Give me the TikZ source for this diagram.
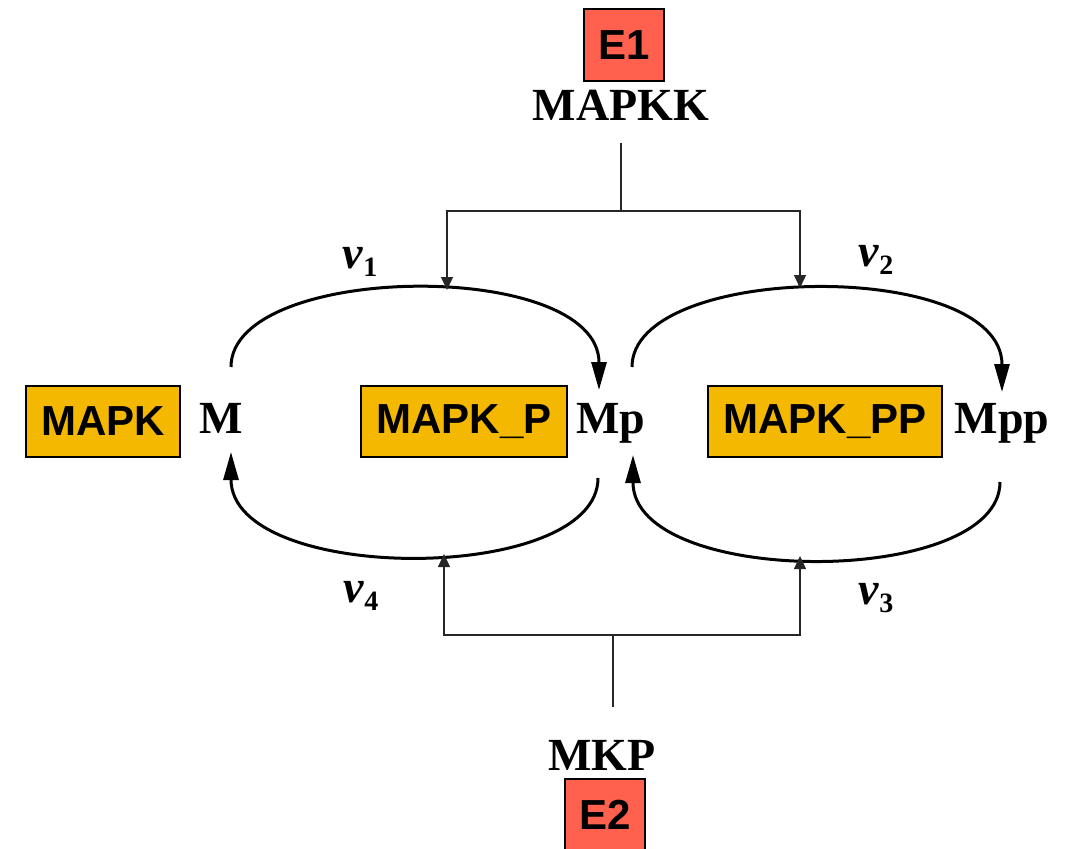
\documentclass[tikz,border=0pt]{standalone}
\usepackage{fontspec}
\setmainfont{Liberation Serif}
\newfontfamily\arialfont{Liberation Sans}
\usetikzlibrary{arrows.meta}
\definecolor{enzred}{HTML}{FF614E}
\definecolor{formgold}{HTML}{F5B800}
\newcommand{\rate}[1]{\textit{v}\raisebox{-8pt}{\fontsize{28}{28}\selectfont #1}}
\tikzset{
    every node/.style={inner sep=0pt, font=\fontsize{46}{46}\selectfont\bfseries}
}
\tikzset{
    species/.style={draw, line width=2pt, fill=formgold, minimum height=71pt,
    	font=\arialfont\fontsize{42}{42}\selectfont\bfseries},
    enzyme/.style={species, fill=enzred, minimum width=80pt, minimum height=72pt}
}
\tikzset{
    react/.style={line width=3pt, -{Triangle[length=28pt,width=15pt]}},
    reg/.style={line width=1.3pt, black!85},
    regtip/.style={reg, -{Triangle[length=13pt,width=12pt]}}
}

\begin{document}
\begin{tikzpicture}[x=1pt,y=-1pt]
	\useasboundingbox (0,0) rectangle (1069,849);
	\node (e1) [enzyme] at (624,45) {E1};
	\node (mapkk) [anchor=base] at (621,120) {MAPKK};
	\node (mkp) [anchor=base] at (602,770) {MKP};
	\node (e2) [enzyme] at (605,815) {E2};
	
	\node (mapk) [species, minimum width=154pt] at (103,421.5) {MAPK};
	\node (mapkp) [species, minimum width=206pt] at (464,421.5) {MAPK\_P};
	\node (mapkpp) [species, minimum width=234pt] at (825,421.5) {MAPK\_PP};
	\node (m) [anchor=base] at (221,433) {M};
	\node (mp) [anchor=base] at (611,433) {Mp};
	\node (mpp) [anchor=base] at (1002,433) {Mpp};
	
	\node (v1) at (360,262) {\rate{1}};
	\node (v2) at (876,260) {\rate{2}};
	\node (v3) at (876,598) {\rate{3}};
	\node (v4) at (361,596) {\rate{4}};
	
	% ends of the four reactions
	\coordinate (m-up) at (231,367);
	\coordinate (m-down) at (231,452);
	\coordinate (mp-in) at (599,390);
	\coordinate (mp-out) at (632,367);
	\coordinate (mp-back) at (598,478);
	\coordinate (mp-up) at (633,455);
	\coordinate (mpp-in) at (1002,392);
	\coordinate (mpp-out) at (1000,482);
	
	\draw[react] (m-up) .. controls (231,262) and (599,258) .. (mp-in);
	\draw[react] (mp-out) .. controls (632,262) and (1002,258) .. (mpp-in);
	\draw[react] (mpp-out) .. controls (1000,588) and (633,588) .. (mp-up);
	\draw[react] (mp-back) .. controls (598,585) and (231,585) .. (m-down);
	
	% kinase and phosphatase
	\coordinate (kk-fork) at (621,211);
	\coordinate (p-fork) at (613,635);
	\coordinate (v1-hit) at (447,290);
	\coordinate (v2-hit) at (800,288);
	\coordinate (v3-hit) at (800,556);
	\coordinate (v4-hit) at (444,554);
	
	\draw[reg, shorten <=23pt] (mapkk.south) -- (kk-fork);
	\draw[regtip] (kk-fork) -| (v1-hit); \draw[regtip] (kk-fork) -| (v2-hit);
	\draw[reg, shorten <=33pt] (mkp.north -| p-fork) -- (p-fork);
	\draw[regtip] (p-fork) -| (v4-hit); \draw[regtip] (p-fork) -| (v3-hit);
\end{tikzpicture}
\end{document}
